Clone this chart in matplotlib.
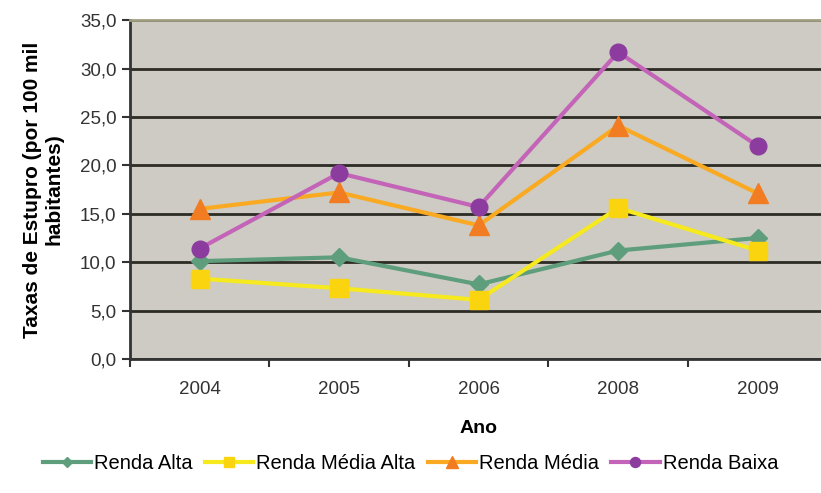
import matplotlib
matplotlib.use("Agg")
import matplotlib.pyplot as plt
import numpy as np

# data
anos = ["2004", "2005", "2006", "2008", "2009"]
renda_alta = [10.1, 10.5, 7.7, 11.2, 12.5]
renda_media_alta = [8.3, 7.3, 6.1, 15.6, 11.2]
renda_media = [15.5, 17.2, 13.8, 24.1, 17.1]
renda_baixa = [11.4, 19.2, 15.7, 31.7, 22.0]
y_ticks = [0, 5, 10, 15, 20, 25, 30, 35]

plt.rcParams['font.family'] = ['Liberation Sans', 'DejaVu Sans']

fig = plt.figure(figsize=(8.21, 4.93), dpi=100)
ax = fig.add_axes([0.158, 0.272, 0.85, 0.687])
ax.set_facecolor("#cdcbc3")

x = np.arange(len(anos))
ax.plot(x, renda_alta, color="#5f9e7c", lw=3, marker="D", ms=9,
        mfc="#5f9e7c", mec="#5f9e7c", label="Renda Alta", zorder=3)
ax.plot(x, renda_media_alta, color="#f6ea1e", lw=3, marker="s", ms=13,
        mfc="#fbd410", mec="#fbd410", label="Renda Média Alta", zorder=3)
ax.plot(x, renda_media, color="#f9aa22", lw=3, marker="^", ms=14,
        mfc="#f27c22", mec="#f27c22", label="Renda Média", zorder=3)
ax.plot(x, renda_baixa, color="#c464b8", lw=3, marker="o", ms=12,
        mfc="#8c3c9e", mec="#8c3c9e", label="Renda Baixa", zorder=3)

ax.set_xlim(-0.5, len(anos) - 0.5)
ax.set_ylim(0, 35)
ax.set_yticks(y_ticks)
ax.set_yticklabels([f"{v:.1f}".replace(".", ",") for v in y_ticks], fontsize=13.5, color="#333333")
ax.set_xticks(np.arange(len(anos) + 1) - 0.5)
ax.set_xticklabels([])
ax.set_xticks(x, minor=True)
ax.set_xticklabels(anos, minor=True, fontsize=13.5, color="#333333")
ax.tick_params(axis="x", which="minor", length=0, pad=16)
ax.tick_params(axis="x", which="major", length=6, width=1.5, color="#333333")
ax.tick_params(axis="y", length=6, width=1.5, color="#333333")

ax.grid(axis="y", color="#2c2c24", lw=2)
ax.set_axisbelow(True)
ax.spines["right"].set_visible(False)
ax.spines["top"].set_color("#a09e80")
ax.spines["top"].set_linewidth(2)
ax.spines["left"].set_linewidth(2)
ax.spines["left"].set_color("#333333")
ax.spines["bottom"].set_linewidth(2)
ax.spines["bottom"].set_color("#333333")

ax.set_xlabel("Ano", fontsize=14, fontweight="bold", labelpad=16)
ax.set_ylabel("Taxas de Estupro (por 100 mil\nhabitantes)", fontsize=15, fontweight="bold",
              labelpad=12, linespacing=1.15)

fig.legend(loc="center", bbox_to_anchor=(0.5, 0.06), ncol=4, frameon=False,
           fontsize=14.5, handlelength=2.4, handletextpad=0.15, columnspacing=0.6,
           markerscale=0.6)

fig.savefig("out.png", dpi=100)
